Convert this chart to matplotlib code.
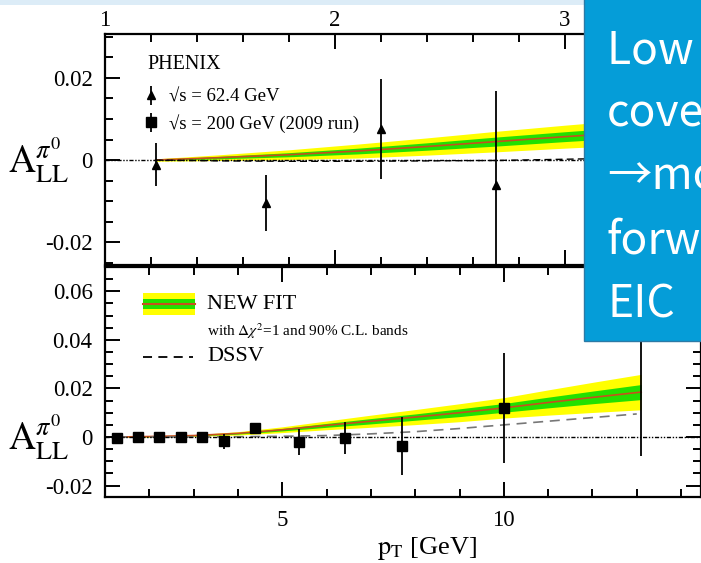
import matplotlib.pyplot as plt
import numpy as np
from matplotlib.patches import Rectangle
from matplotlib.ticker import MultipleLocator, FuncFormatter

plt.rcParams['font.family'] = ['Liberation Serif', 'DejaVu Serif']
plt.rcParams['mathtext.fontset'] = 'stix'
plt.rcParams['axes.unicode_minus'] = False

# ---- top panel: sqrt(s) = 62.4 GeV ----
pt_62 = [1.22, 1.70, 2.20, 2.70]
all_62 = [-0.0011, -0.0105, 0.0075, -0.0060]
err_62 = [0.0052, 0.0068, 0.0122, 0.0227]

pt_band_62 = [1.22, 1.5, 1.8, 2.1, 2.4, 2.7, 3.0, 3.3, 3.6]
fit_62 = [0.0, 0.0006, 0.0013, 0.0022, 0.0033, 0.0045, 0.0057, 0.0068, 0.0079]
yellow_62 = [0.0003, 0.0007, 0.0012, 0.0017, 0.0021, 0.0025, 0.0028, 0.0031, 0.0034]
green_62 = [0.0001, 0.0003, 0.0005, 0.0007, 0.0009, 0.0011, 0.0012, 0.0013, 0.0015]
dssv_62 = [0.0, -0.0002, -0.0003, -0.0003, -0.0002, -0.0001, 0.0002, 0.0005, 0.0008]

# ---- bottom panel: sqrt(s) = 200 GeV (2009 run) ----
pt_200 = [1.27, 1.75, 2.22, 2.71, 3.19, 3.68, 4.38, 5.37, 6.41, 7.71, 10.0, 13.1]
all_200 = [-0.0002, -0.0001, 0.0001, 0.0001, 0.0002, -0.0018, 0.0037, -0.0021,
           -0.0003, -0.0037, 0.0120, 0.0420]
err_200 = [0.0005, 0.0005, 0.0006, 0.0007, 0.0009, 0.0030, 0.0022, 0.0055,
           0.0065, 0.0120, 0.0227, 0.0500]

pt_band_200 = [1.27, 2, 3, 4, 5, 6, 7, 8, 9, 10, 11, 12, 13.1]
fit_200 = [0.0, 0.0002, 0.0006, 0.0015, 0.0030, 0.0048, 0.0065, 0.0082, 0.0100,
           0.0120, 0.0142, 0.0163, 0.0185]
yellow_200 = [0.0001, 0.0002, 0.0003, 0.0007, 0.0012, 0.0018, 0.0025, 0.0031,
              0.0037, 0.0042, 0.0052, 0.0062, 0.0073]
green_200 = [0.0, 0.0001, 0.0001, 0.0003, 0.0005, 0.0008, 0.0011, 0.0013,
             0.0016, 0.0018, 0.0022, 0.0026, 0.0031]
pt_dssv_200 = [1.27, 2, 3, 4, 5, 6, 7, 8, 9, 10, 11, 12, 13.0]
dssv_200 = [0.0, 0.0, 0.0, 0.0001, 0.0003, 0.0006, 0.0013, 0.0022, 0.0035,
            0.0050, 0.0065, 0.0080, 0.0095]

box_lines = ['Low x', 'coverage', '\u2192more', 'forward', 'EIC']

YELLOW = '#ffff00'
GREEN = '#22e000'
RED = '#c8501e'
zero_ls = (0, (3, 1.2, 1, 1.2, 1, 1.2))

fig = plt.figure(figsize=(7.01, 5.63), dpi=100)
ax1 = fig.add_axes([0.1498, 0.5290, 0.8502, 0.4106])
ax2 = fig.add_axes([0.1498, 0.1172, 0.8502, 0.4086])


def yfmt(v, pos):
    if abs(v) < 1e-9:
        return '0'
    return f'{v:.2f}'


def draw_band(ax, x, c, y, g):
    x = np.array(x); c = np.array(c); y = np.array(y); g = np.array(g)
    ax.fill_between(x, c - y, c + y, color=YELLOW, lw=0, zorder=1)
    ax.fill_between(x, c - g, c + g, color=GREEN, lw=0, zorder=2)
    ax.plot(x, c, color=RED, lw=1.2, zorder=3)


def style(ax):
    for s in ax.spines.values():
        s.set_linewidth(1.6)
    ax.tick_params(which='both', direction='in', top=True, right=True,
                   width=1.4, labelsize=16.5, pad=9)
    ax.tick_params(which='major', length=11)
    ax.tick_params(which='minor', length=6)
    ax.yaxis.set_major_locator(MultipleLocator(0.02))
    ax.yaxis.set_minor_locator(MultipleLocator(0.005))
    ax.yaxis.set_major_formatter(FuncFormatter(yfmt))
    ax.axhline(0, color='black', lw=1.0, ls=zero_ls, zorder=4)
    ax.annotate(r'$\mathrm{A}_{\mathrm{LL}}^{\pi^0}$', xy=(-0.112, 0.0),
                xycoords=('axes fraction', 'data'), ha='center', va='center',
                fontsize=27, annotation_clip=False)


# top panel
draw_band(ax1, pt_band_62, fit_62, yellow_62, green_62)
ax1.plot(pt_band_62, dssv_62, color='black', lw=1.0, ls=(0, (5, 3)), zorder=4)
eb1 = ax1.errorbar(pt_62, all_62, yerr=err_62, fmt='^', color='black', ms=5.5,
                   elinewidth=1.3, capsize=0, zorder=5)
ax1.set_xlim(1.0, 3.591)
ax1.set_ylim(-0.0256, 0.0307)
ax1.xaxis.set_major_locator(MultipleLocator(1))
ax1.xaxis.set_minor_locator(MultipleLocator(0.2))
style(ax1)
ax1.tick_params(axis='x', labeltop=True, labelbottom=False, pad=2)

# bottom panel
draw_band(ax2, pt_band_200, fit_200, yellow_200, green_200)
ax2.plot(pt_dssv_200, dssv_200, color='#777777', lw=1.2, ls=(0, (6, 4)), zorder=4)
eb2 = ax2.errorbar(pt_200, all_200, yerr=err_200, fmt='s', color='black', ms=6.5,
                   elinewidth=1.3, capsize=0, zorder=5)
ax2.set_xlim(1.0, 14.45)
ax2.set_ylim(-0.0247, 0.0700)
ax2.xaxis.set_major_locator(MultipleLocator(5))
ax2.xaxis.set_minor_locator(MultipleLocator(1))
style(ax2)
ax2.set_xlabel(r'$\mathrm{p}_{\mathrm{T}}$ [GeV]', fontsize=19, labelpad=4)
ax2.xaxis.set_label_coords(0.54, -0.165)

# top legend
ax1.text(0.071, 0.868, 'PHENIX', transform=ax1.transAxes, fontsize=14.5,
         va='center', ha='left')
leg = ax1.legend([eb1, eb2], ['\u221as = 62.4 GeV', '\u221as = 200 GeV (2009 run)'],
                 loc='upper left', bbox_to_anchor=(0.045, 0.82),
                 frameon=False, handlelength=0.6, handletextpad=0.7,
                 labelspacing=0.45, fontsize=13.5, borderpad=0.2)

# bottom legend
ax2.add_patch(Rectangle((0.064, 0.791), 0.087, 0.096, transform=ax2.transAxes,
                        color=YELLOW, lw=0, zorder=6))
ax2.add_patch(Rectangle((0.064, 0.818), 0.087, 0.043, transform=ax2.transAxes,
                        color=GREEN, lw=0, zorder=7))
ax2.plot([0.064, 0.151], [0.839, 0.839], transform=ax2.transAxes, color=RED,
         lw=1.5, zorder=8)
ax2.text(0.171, 0.839, 'NEW FIT', transform=ax2.transAxes, fontsize=16,
         va='center', ha='left')
ax2.text(0.171, 0.722, r'with $\Delta\chi^2$=1 and 90% C.L. bands',
         transform=ax2.transAxes, fontsize=11, va='center', ha='left')
ax2.plot([0.064, 0.148], [0.609, 0.609], transform=ax2.transAxes, color='black',
         lw=1.3, ls=(0, (5, 3.5)), zorder=8)
ax2.text(0.171, 0.609, 'DSSV', transform=ax2.transAxes, fontsize=16,
         va='center', ha='left')

# slide decorations
fig.patches.append(Rectangle((0, 1 - 5 / 563), 584 / 701, 5 / 563,
                             transform=fig.transFigure, color='#dcecf7', lw=0,
                             zorder=10))
fig.patches.append(Rectangle((584 / 701, 1 - 341 / 563), 1 - 584 / 701 + 0.01,
                             341 / 563 + 0.01, transform=fig.transFigure,
                             facecolor='#059dd8', edgecolor='#2b7aa6', lw=1.0,
                             zorder=10))
baselines = [63, 127, 190, 254, 318]
for txt, b in zip(box_lines, baselines):
    fig.text(607 / 701, 1 - b / 563, txt, color='white', fontsize=32,
             family=['Noto Sans CJK JP', 'DejaVu Sans'], va='baseline',
             ha='left', zorder=11)

fig.savefig('out.png', dpi=100)
